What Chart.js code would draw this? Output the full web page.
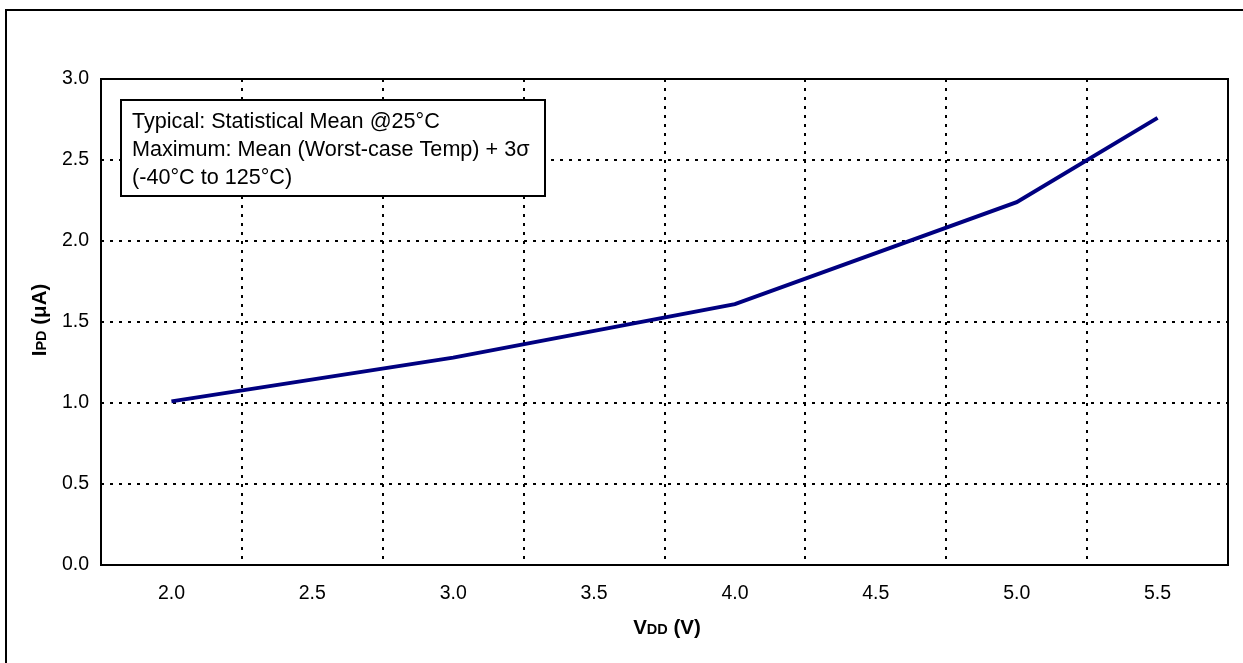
<!DOCTYPE html>
<html>
<head>
<meta charset="utf-8">
<script src="https://cdn.jsdelivr.net/npm/chart.js@4/dist/chart.umd.min.js"></script>
<style>
  html, body { margin: 0; padding: 0; background: #fff; }
  #wrap { width: 1243px; height: 663px; position: relative; }
</style>
</head>
<body>
<div id="wrap"><canvas id="ipdChart" width="1243" height="663"></canvas></div>
<script>
// axis categories (VDD in volts)
var vddLabels = ['2.0', '2.5', '3.0', '3.5', '4.0', '4.5', '5.0', '5.5'];
// measured points of the curve
var vddPoints = ['2.0', '3.0', '4.0', '5.0', '5.5'];
var ipdValues = [1.01, 1.28, 1.61, 2.24, 2.76];
// y axis range
var yMin = 0, yMax = 3, yStep = 0.5;
// note box text
var noteLines = [
  'Typical: Statistical Mean @25°C',
  'Maximum: Mean (Worst-case Temp) + 3σ',
  '(-40°C to 125°C)'
];

var FONT = "'Liberation Sans', Arial, sans-serif";

// draws "I" + small "PD" etc. piece by piece
function drawMixed(ctx, parts, x, y) {
  var total = 0;
  parts.forEach(function(p) {
    ctx.font = 'bold ' + p[1] + 'px ' + FONT;
    total += ctx.measureText(p[0]).width;
  });
  var cx = x - total / 2;
  ctx.textAlign = 'left';
  ctx.textBaseline = 'alphabetic';
  parts.forEach(function(p) {
    ctx.font = 'bold ' + p[1] + 'px ' + FONT;
    ctx.fillText(p[0], cx, y);
    cx += ctx.measureText(p[0]).width;
  });
}

var decor = {
  id: 'decor',
  beforeDraw: function(chart) {
    var ctx = chart.ctx;
    ctx.save();
    ctx.fillStyle = '#fff';
    ctx.fillRect(0, 0, chart.width, chart.height);
    // outer frame (runs off the right and bottom)
    ctx.strokeStyle = '#000';
    ctx.lineWidth = 2;
    ctx.strokeRect(6, 10, chart.width + 10, chart.height + 10);
    ctx.restore();
  },
  afterDraw: function(chart) {
    var ctx = chart.ctx, a = chart.chartArea;
    ctx.save();
    // plot frame
    ctx.strokeStyle = '#000';
    ctx.lineWidth = 2;
    ctx.strokeRect(a.left, a.top, a.right - a.left, a.bottom - a.top);

    // note box
    ctx.fillStyle = '#fff';
    ctx.fillRect(121, 100, 424, 96);
    ctx.strokeRect(121, 100, 424, 96);
    ctx.fillStyle = '#000';
    ctx.font = '21.6px ' + FONT;
    ctx.textAlign = 'left';
    ctx.textBaseline = 'middle';
    noteLines.forEach(function(t, i) {
      ctx.fillText(t, 132, 122 + i * 28);
    });

    // axis titles
    ctx.fillStyle = '#000';
    drawMixed(ctx, [['V', 20.5], ['DD', 14.5], [' (V)', 20.5]], 667, 634);
    ctx.translate(46, 320);
    ctx.rotate(-Math.PI / 2);
    drawMixed(ctx, [['I', 20.5], ['PD', 14.5], [' (μA)', 20.5]], 0, 0);
    ctx.restore();
  }
};

var ctx = document.getElementById('ipdChart').getContext('2d');
var chart = new Chart(ctx, {
  type: 'line',
  data: {
    labels: vddLabels,
    datasets: [{
      data: vddPoints.map(function(v, i) { return { x: v, y: ipdValues[i] }; }),
      borderColor: '#000080',
      borderWidth: 4,
      pointRadius: 0,
      tension: 0,
      fill: false
    }]
  },
  options: {
    responsive: false,
    animation: false,
    events: [],
    layout: { padding: { left: 0, right: 15, top: 79, bottom: 0 } },
    plugins: {
      legend: { display: false },
      tooltip: { enabled: false }
    },
    scales: {
      x: {
        type: 'category',
        offset: true,
        afterFit: function(s) { s.height = 98; },
        grid: { offset: true, color: '#000', lineWidth: 2, drawTicks: false },
        border: { display: false, dash: [3, 6] },
        ticks: { color: '#000', padding: 17, maxRotation: 0, font: { family: FONT, size: 19.5 } }
      },
      y: {
        min: yMin,
        max: yMax,
        afterFit: function(s) { s.width = 101; },
        grid: { color: '#000', lineWidth: 2, drawTicks: false },
        border: { display: false, dash: [3, 6] },
        ticks: {
          stepSize: yStep,
          color: '#000',
          padding: 12,
          font: { family: FONT, size: 19.5 },
          callback: function(v) { return v.toFixed(1); }
        }
      }
    }
  },
  plugins: [decor]
});
</script>
</body>
</html>
